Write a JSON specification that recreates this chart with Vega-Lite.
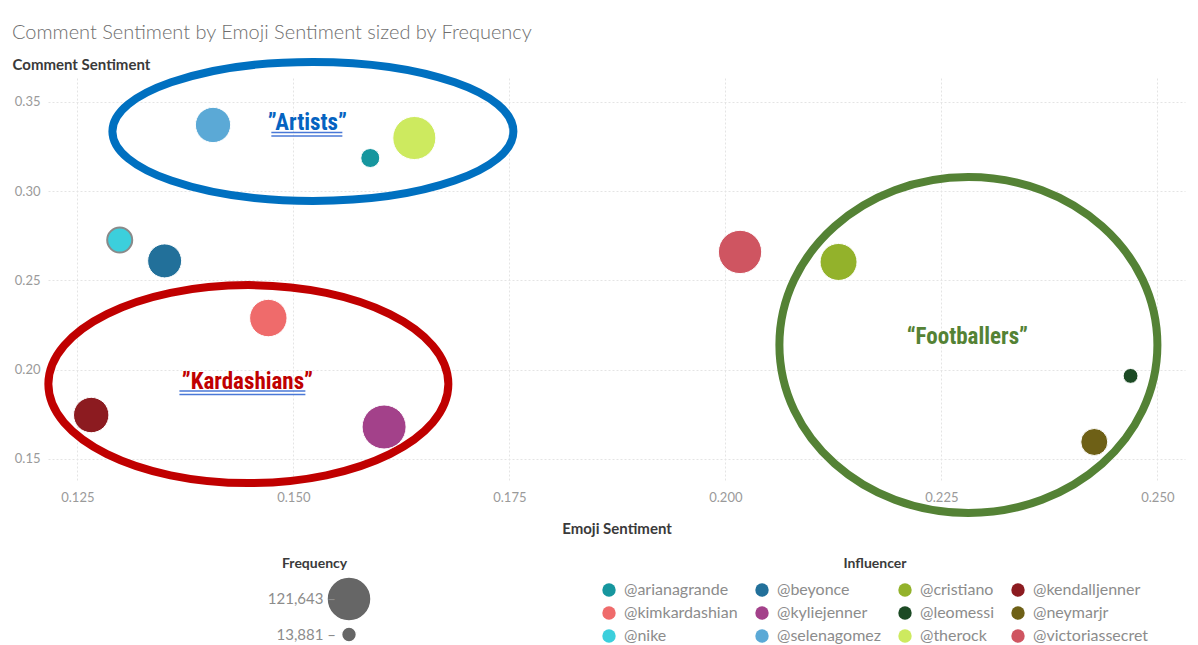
{
  "$schema": "https://vega.github.io/schema/vega-lite/v6.json",
  "width": 1137,
  "height": 404,
  "autosize": {"type": "none"},
  "padding": {"left": 48, "top": 78, "right": 13, "bottom": 163},
  "background": "white",
  "title": {
    "text": "Comment Sentiment by Emoji Sentiment sized by Frequency",
    "anchor": "start",
    "frame": "bounds",
    "font": "Lato",
    "fontSize": 20,
    "fontWeight": 300,
    "color": "#6e6e6e",
    "offset": 3
  },
  "config": {
    "view": {"stroke": null},
    "axis": {
      "domain": false,
      "ticks": false,
      "grid": true,
      "gridColor": "#e4e4e4",
      "gridDash": [2, 2],
      "gridWidth": 1,
      "labelColor": "#9a9a9a",
      "labelFont": "Lato",
      "labelFontSize": 13,
      "titleFont": "Lato",
      "titleFontSize": 15,
      "titleFontWeight": "bold",
      "titleColor": "#3a3a3a"
    },
    "legend": {
      "padding": 0,
      "titleFont": "Lato",
      "titleFontSize": 14,
      "titleFontWeight": "bold",
      "titleColor": "#3a3a3a",
      "labelFont": "Lato",
      "labelFontSize": 16,
      "labelColor": "#8c8c8c"
    }
  },
  "datasets": {
    "influencers": [
      {"influencer": "@arianagrande", "emoji": 0.1589, "comment": 0.3185, "frequency": 22700},
      {"influencer": "@beyonce", "emoji": 0.1351, "comment": 0.2609, "frequency": 72600},
      {"influencer": "@cristiano", "emoji": 0.2131, "comment": 0.2603, "frequency": 86000},
      {"influencer": "@kendalljenner", "emoji": 0.1266, "comment": 0.1746, "frequency": 78700},
      {"influencer": "@kimkardashian", "emoji": 0.1471, "comment": 0.2289, "frequency": 87900},
      {"influencer": "@kyliejenner", "emoji": 0.1605, "comment": 0.1679, "frequency": 121643},
      {"influencer": "@leomessi", "emoji": 0.2469, "comment": 0.1965, "frequency": 13881},
      {"influencer": "@neymarjr", "emoji": 0.2427, "comment": 0.1595, "frequency": 45800},
      {"influencer": "@nike", "emoji": 0.1299, "comment": 0.2726, "frequency": 39300},
      {"influencer": "@selenagomez", "emoji": 0.1407, "comment": 0.337, "frequency": 78200},
      {"influencer": "@therock", "emoji": 0.164, "comment": 0.3297, "frequency": 116500},
      {"influencer": "@victoriassecret", "emoji": 0.2017, "comment": 0.2659, "frequency": 117800}
    ],
    "groups": [
      {"group": "”Artists”", "emoji": 0.15162, "comment": 0.3381},
      {"group": "”Kardashians”", "emoji": 0.14468, "comment": 0.19311},
      {"group": "“Footballers”", "emoji": 0.22801, "comment": 0.21831}
    ],
    "underlines": [
      {"group": "Artists", "start": 0.14745, "end": 0.15567, "comment": 0.33281},
      {"group": "Kardashians", "start": 0.13681, "end": 0.15139, "comment": 0.18807}
    ]
  },
  "resolve": {"scale": {"color": "independent"}, "legend": {"color": "independent"}},
  "encoding": {
    "x": {
      "type": "quantitative",
      "scale": {"domain": [0.1216, 0.2532], "nice": false, "zero": false},
      "axis": {
        "title": "Emoji Sentiment",
        "values": [0.125, 0.15, 0.175, 0.2, 0.225, 0.25],
        "format": ".3f",
        "labelPadding": 9,
        "titlePadding": 17
      }
    },
    "y": {
      "type": "quantitative",
      "scale": {"domain": [0.1371, 0.3633], "nice": false, "zero": false},
      "axis": {
        "title": "Comment Sentiment",
        "values": [0.15, 0.2, 0.25, 0.3, 0.35],
        "format": ".2f",
        "labelPadding": 8,
        "titleAngle": 0,
        "titleAlign": "left",
        "titleBaseline": "middle",
        "titleX": -36,
        "titleY": -14
      }
    }
  },
  "layer": [
    {
      "data": {"values": [{"emoji": 0.15226, "comment": 0.33337}]},
      "mark": {
        "type": "point",
        "filled": false,
        "shape": "M -1 0 C -1 -0.1914 -0.5523 -0.3466 0 -0.3466 C 0.5523 -0.3466 1 -0.1914 1 0 C 1 0.1914 0.5523 0.3466 0 0.3466 C -0.5523 0.3466 -1 0.1914 -1 0 Z",
        "size": 160801,
        "stroke": "#0070C0",
        "strokeWidth": 8,
        "opacity": 1
      },
      "encoding": {"x": {"field": "emoji"}, "y": {"field": "comment"}}
    },
    {
      "data": {"values": [{"emoji": 0.14479, "comment": 0.19192}]},
      "mark": {
        "type": "point",
        "filled": false,
        "shape": "M -1 0 C -1 -0.2734 -0.5523 -0.495 0 -0.495 C 0.5523 -0.495 1 -0.2734 1 0 C 1 0.2734 0.5523 0.495 0 0.495 C -0.5523 0.495 -1 0.2734 -1 0 Z",
        "size": 160000,
        "stroke": "#C00000",
        "strokeWidth": 8,
        "opacity": 1
      },
      "encoding": {"x": {"field": "emoji"}, "y": {"field": "comment"}}
    },
    {
      "data": {"values": [{"emoji": 0.22813, "comment": 0.21383}]},
      "mark": {
        "type": "point",
        "filled": false,
        "shape": "M -1 0 C -1 -0.4909 -0.5523 -0.8889 0 -0.8889 C 0.5523 -0.8889 1 -0.4909 1 0 C 1 0.4909 0.5523 0.8889 0 0.8889 C -0.5523 0.8889 -1 0.4909 -1 0 Z",
        "size": 142884,
        "stroke": "#548235",
        "strokeWidth": 8,
        "opacity": 1
      },
      "encoding": {"x": {"field": "emoji"}, "y": {"field": "comment"}}
    },
    {
      "data": {"name": "influencers"},
      "mark": {"type": "circle", "opacity": 1, "strokeWidth": 1},
      "encoding": {
        "x": {"field": "emoji"},
        "y": {"field": "comment"},
        "color": {
          "field": "influencer",
          "type": "nominal",
          "scale": {
            "domain": ["@arianagrande", "@beyonce", "@cristiano", "@kendalljenner", "@kimkardashian", "@kyliejenner", "@leomessi", "@neymarjr", "@nike", "@selenagomez", "@therock", "@victoriassecret"],
            "range": ["#16969e", "#22709a", "#93b22b", "#8c1b20", "#ef6b6b", "#a3418a", "#1c4a24", "#6e6016", "#3ccfdc", "#5ba9d6", "#cdea5f", "#cf5561"]
          },
          "legend": {
            "title": "Influencer",
            "orient": "none",
            "legendX": 553,
            "legendY": 479,
            "direction": "horizontal",
            "columns": 4,
            "columnPadding": 16,
            "rowPadding": 7,
            "symbolType": "circle",
            "symbolSize": 180,
            "symbolStrokeWidth": 0,
            "labelOffset": 7,
            "titleAnchor": "middle",
            "titlePadding": 11
          }
        },
        "size": {
          "field": "frequency",
          "type": "quantitative",
          "title": "Frequency",
          "scale": {"domain": [0, 121643], "range": [0, 1936], "nice": false},
          "legend": {
            "orient": "none",
            "legendX": 234,
            "legendY": 479,
            "values": [121643, 13881],
            "format": ",d",
            "labelExpr": "datum.label + ' –'",
            "direction": "vertical",
            "symbolFillColor": "#666666",
            "symbolStrokeColor": "#ffffff",
            "symbolStrokeWidth": 1.5,
            "symbolOffset": 44,
            "labelAlign": "right",
            "labelOffset": -36,
            "labelFontSize": 15,
            "rowPadding": 0,
            "titleAnchor": "start",
            "titlePadding": 5
          }
        },
        "stroke": {
          "condition": {"test": "datum.influencer === '@nike'", "value": "#8a8a8a"},
          "value": "#ffffff"
        },
        "strokeWidth": {
          "condition": {"test": "datum.influencer === '@nike'", "value": 2},
          "value": 1
        }
      }
    },
    {
      "data": {"name": "groups"},
      "mark": {"type": "text", "font": "Liberation Sans Narrow, Roboto Condensed, Noto Sans", "fontSize": 23, "fontWeight": "bold", "align": "center", "baseline": "middle"},
      "encoding": {
        "x": {"field": "emoji"},
        "y": {"field": "comment"},
        "text": {"field": "group"},
        "color": {
          "field": "group",
          "type": "nominal",
          "scale": {"domain": ["”Artists”", "”Kardashians”", "“Footballers”"], "range": ["#0563C1", "#C00000", "#548235"]},
          "legend": null
        }
      }
    },
    {
      "data": {"name": "underlines"},
      "mark": {"type": "rule", "color": "#4a78d6", "strokeWidth": 1.5},
      "encoding": {"x": {"field": "start"}, "x2": {"field": "end"}, "y": {"field": "comment"}}
    },
    {
      "data": {"name": "underlines"},
      "mark": {"type": "rule", "color": "#4a78d6", "strokeWidth": 1.5, "yOffset": 3.5},
      "encoding": {"x": {"field": "start"}, "x2": {"field": "end"}, "y": {"field": "comment"}}
    }
  ]
}
